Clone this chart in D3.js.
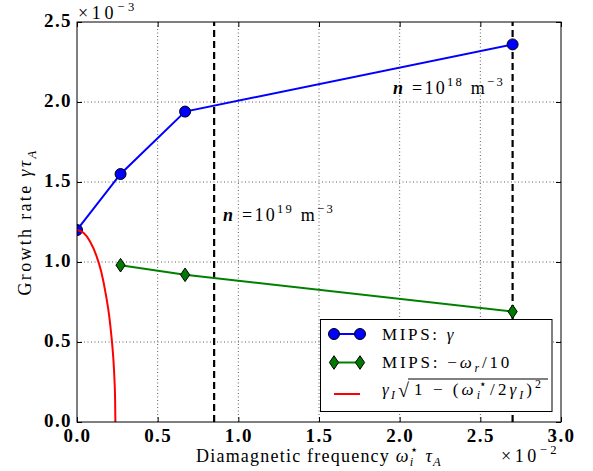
<!DOCTYPE html>
<html><head><meta charset="utf-8">
<script src="https://cdn.jsdelivr.net/npm/d3@7"></script>
<style>body{margin:0;background:#fff}svg{display:block}svg text{font-family:'Liberation Serif','DejaVu Serif',serif}</style>
</head><body>
<svg id="c" width="593" height="471"></svg>
<script>
// ---- data ----
const xTicks = [0, 0.5, 1.0, 1.5, 2.0, 2.5, 3.0];
const xTickLabels = ["0.0", "0.5", "1.0", "1.5", "2.0", "2.5", "3.0"];
const yTicks = [0, 0.5, 1.0, 1.5, 2.0, 2.5];
const yTickLabels = ["0.0", "0.5", "1.0", "1.5", "2.0", "2.5"];
const mipsX = [0, 0.27, 0.67, 2.7];
const mipsGamma = [1.20, 1.55, 1.94, 2.36];
const mipsOmegaX = [0.27, 0.67, 2.7];
const mipsOmega = [0.98, 0.92, 0.69];
const theoryX = [0, 0.04, 0.08, 0.12, 0.15, 0.18, 0.20, 0.215, 0.225, 0.232, 0.236, 0.238];
const theoryY = [1.20, 1.183, 1.13, 1.04, 0.94, 0.79, 0.66, 0.52, 0.40, 0.27, 0.15, 0.0];
const densityX = [0.85, 2.7];

// ---- layout ----
const L = 77, R = 561, T = 22, B = 422;
const svg = d3.select("#c");
const x = d3.scaleLinear().domain([0, 3]).range([L, R]);
const y = d3.scaleLinear().domain([0, 2.5]).range([B, T]);

function rich(sel, px, py, parts, size, anchor) {
  const t = sel.append("text").attr("x", px).attr("y", py)
    .attr("font-size", size).attr("text-anchor", anchor || "start").attr("fill", "#000");
  let cur = 0;
  parts.forEach(p => {
    const small = p.sup || p.sub;
    const target = p.sup ? -size * 0.42 : p.sub ? size * 0.25 : 0;
    const ts = t.append("tspan").text(p.t).attr("dy", target - cur)
      .attr("font-size", small ? size * 0.7 : size);
    if (p.dx) ts.attr("dx", p.dx);
    cur = target;
    if (p.i) ts.attr("font-style", "italic");
    if (p.b) ts.attr("font-weight", "bold");
  });
  return t;
}
function fit(t, target) {
  t.attr("letter-spacing", 0);
  const w = t.node().getComputedTextLength();
  const n = t.text().length;
  t.attr("letter-spacing", Math.max(0, (target - w) / n));
  return t;
}

// clip
svg.append("defs").append("clipPath").attr("id", "clip")
  .append("rect").attr("x", L).attr("y", T).attr("width", R - L).attr("height", B - T);

// grid
const grid = svg.append("g").attr("stroke", "#000").attr("stroke-width", 0.8)
  .attr("stroke-dasharray", "1,2.5").attr("opacity", 0.8);
xTicks.slice(1, -1).forEach(v => grid.append("line").attr("x1", x(v)).attr("x2", x(v)).attr("y1", T).attr("y2", B));
yTicks.slice(1, -1).forEach(v => grid.append("line").attr("y1", y(v)).attr("y2", y(v)).attr("x1", L).attr("x2", R));

// axes via d3 (ticks inward)
const axB = svg.append("g").attr("transform", `translate(0,${B})`)
  .call(d3.axisBottom(x).tickValues(xTicks).tickSize(-5).tickFormat((d, i) => xTickLabels[i]));
const axT = svg.append("g").attr("transform", `translate(0,${T})`)
  .call(d3.axisTop(x).tickValues(xTicks).tickSize(-5).tickFormat(""));
const axL = svg.append("g").attr("transform", `translate(${L},0)`)
  .call(d3.axisLeft(y).tickValues(yTicks).tickSize(-5).tickFormat((d, i) => yTickLabels[i]));
const axR = svg.append("g").attr("transform", `translate(${R},0)`)
  .call(d3.axisRight(y).tickValues(yTicks).tickSize(-5).tickFormat(""));
[axB, axT, axL, axR].forEach(a => { a.select(".domain").remove(); a.attr("font-family", null); a.selectAll("line").attr("stroke", "#000"); });
[axB, axL].forEach(a => a.selectAll("text").attr("font-size", 19)
  .attr("font-weight", "bold").attr("fill", "#000"));
axB.selectAll("text").attr("dy", 0).attr("y", 19.5).each(function () { fit(d3.select(this), 28); });
axL.selectAll("text").attr("dy", 0).attr("y", 4.5).attr("x", -5).each(function () { fit(d3.select(this), 28); });

// dashed density lines
const dl = svg.append("g").attr("stroke", "#000").attr("stroke-width", 2.2).attr("stroke-dasharray", "7,4");
densityX.forEach(v => dl.append("line").attr("x1", x(v)).attr("x2", x(v)).attr("y1", B).attr("y2", T));

// data series
const plot = svg.append("g").attr("clip-path", "url(#clip)");
const line = d3.line().x(d => x(d[0])).y(d => y(d[1]));
const gammaPts = mipsX.map((v, i) => [v, mipsGamma[i]]);
const omegaPts = mipsOmegaX.map((v, i) => [v, mipsOmega[i]]);
const theoryPts = theoryX.map((v, i) => [v, theoryY[i]]);
const diamond = "M0,-6.8L4.6,0L0,6.8L-4.6,0Z";

plot.append("path").attr("d", line(gammaPts)).attr("fill", "none").attr("stroke", "#0000ff").attr("stroke-width", 2);
plot.selectAll(".c").data(gammaPts).enter().append("circle")
  .attr("cx", d => x(d[0])).attr("cy", d => y(d[1])).attr("r", 5.5)
  .attr("fill", "#0000ff").attr("stroke", "#000").attr("stroke-width", 1);

plot.append("path").attr("d", line(omegaPts)).attr("fill", "none").attr("stroke", "#008000").attr("stroke-width", 2);
plot.selectAll(".d").data(omegaPts).enter().append("path")
  .attr("d", diamond).attr("transform", d => `translate(${x(d[0])},${y(d[1])})`)
  .attr("fill", "#007a00").attr("stroke", "#000").attr("stroke-width", 1);

plot.append("path").attr("d", d3.line().x(d => x(d[0])).y(d => y(d[1])).curve(d3.curveMonotoneX)(theoryPts))
  .attr("fill", "none").attr("stroke", "#ff0000").attr("stroke-width", 2);

// frame
svg.append("rect").attr("x", L).attr("y", T).attr("width", R - L).attr("height", B - T)
  .attr("fill", "none").attr("stroke", "#000").attr("stroke-width", 1);

// annotations
fit(rich(svg, 223, 221, [{t: "n", i: 1, b: 1}, {t: " =10"}, {t: "19", sup: 1}, {t: " m"}, {t: "−3", sup: 1}], 18), 112);
fit(rich(svg, 393, 94, [{t: "n", i: 1, b: 1}, {t: " =10"}, {t: "18", sup: 1}, {t: " m"}, {t: "−3", sup: 1}], 18), 112);

// axis labels and offsets
fit(rich(svg, 319, 461.5, [{t: "Diamagnetic frequency "}, {t: "ω", i: 1}, {t: "i", i: 1, sub: 1}, {t: "⋆", sup: 1, dx: -4}, {t: " "}, {t: "τ", i: 1}, {t: "A", i: 1, sub: 1}], 18, "middle"), 250);
const yl = svg.append("g").attr("transform", "translate(31,222) rotate(-90)");
fit(rich(yl, 0, 0, [{t: "Growth rate "}, {t: "γ", i: 1}, {t: "τ", i: 1}, {t: "A", i: 1, sub: 1}], 18, "middle"), 147);
fit(rich(svg, 560, 461.5, [{t: "×10"}, {t: "−2", sup: 1}], 18, "end"), 59);
fit(rich(svg, 78, 18.5, [{t: "×10"}, {t: "−3", sup: 1}], 18, "start"), 60);

// legend
const lg = svg.append("g");
lg.append("rect").attr("x", 320.5).attr("y", 319.5).attr("width", 231.5).attr("height", 92)
  .attr("fill", "#fff").attr("stroke", "#000").attr("stroke-width", 1);
const rows = [334, 362.5, 394];
const sx1 = 334, sx2 = 360, tx = 382;
lg.append("line").attr("x1", sx1).attr("x2", sx2).attr("y1", rows[0]).attr("y2", rows[0]).attr("stroke", "#0000ff").attr("stroke-width", 2);
[sx1, sx2].forEach(v => lg.append("circle").attr("cx", v).attr("cy", rows[0]).attr("r", 5.5).attr("fill", "#0000ff").attr("stroke", "#000"));
lg.append("line").attr("x1", sx1).attr("x2", sx2).attr("y1", rows[1]).attr("y2", rows[1]).attr("stroke", "#008000").attr("stroke-width", 2);
[sx1, sx2].forEach(v => lg.append("path").attr("d", diamond).attr("transform", `translate(${v},${rows[1]})`).attr("fill", "#007a00").attr("stroke", "#000"));
lg.append("line").attr("x1", sx1).attr("x2", sx2).attr("y1", rows[2]).attr("y2", rows[2]).attr("stroke", "#ff0000").attr("stroke-width", 2);

fit(rich(lg, tx, rows[0] + 5.5, [{t: "MIPS: "}, {t: "γ", i: 1}], 17), 74);
fit(rich(lg, tx, rows[1] + 5.5, [{t: "MIPS: −"}, {t: "ω", i: 1}, {t: "r", i: 1, sub: 1}, {t: "/10"}], 17), 130);
const b3 = rows[2] + 1;
const t1 = fit(rich(lg, tx, b3, [{t: "γ", i: 1}, {t: "I", i: 1, sub: 1}], 17), 15);
const sqx = 398;
const sq = lg.append("text").attr("x", sqx).attr("y", b3 + 2).attr("font-size", 20).text("√");
const ws = sq.node().getComputedTextLength();
const ix = 414;
const inner = fit(rich(lg, ix, b3, [{t: "1 − ("}, {t: "ω", i: 1}, {t: "i", i: 1, sub: 1}, {t: "⋆", sup: 1, dx: -4}, {t: "/2"}, {t: "γ", i: 1}, {t: "I", i: 1, sub: 1}, {t: ")"}, {t: "2", sup: 1}], 17), 134);
lg.append("line").attr("x1", sqx + ws - 1).attr("x2", ix + 134).attr("y1", b3 - 16).attr("y2", b3 - 16)
  .attr("stroke", "#000").attr("stroke-width", 1);
</script>
</body></html>
